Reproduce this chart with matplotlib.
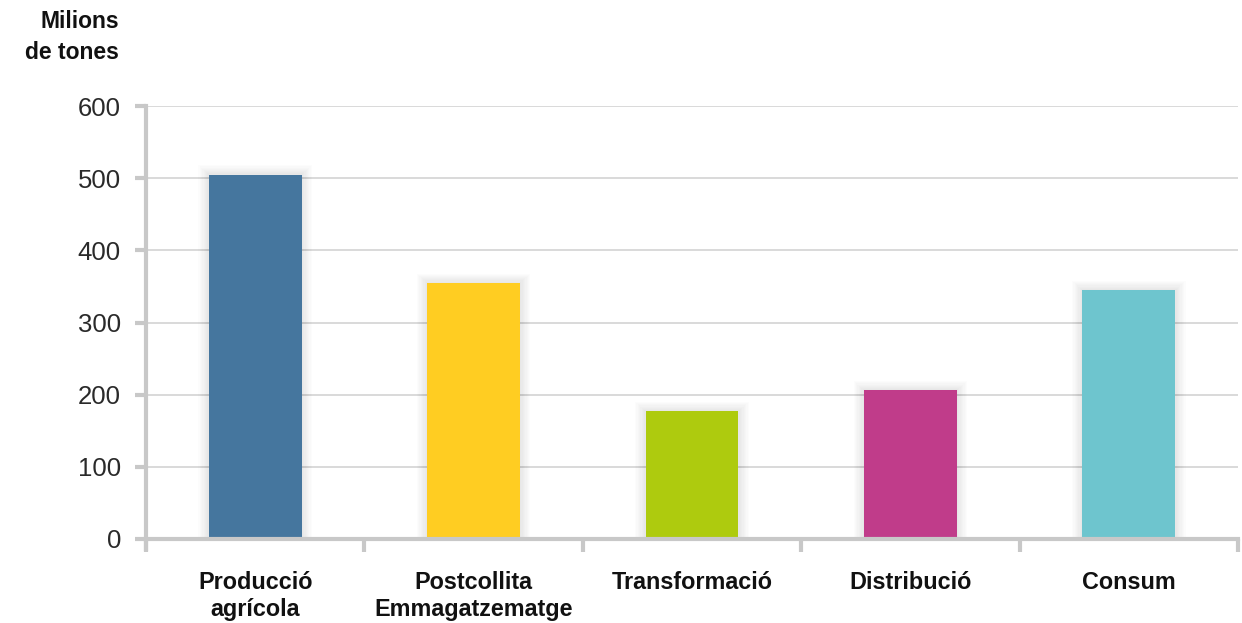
import matplotlib
matplotlib.use("Agg")
import matplotlib.pyplot as plt
from matplotlib.lines import Line2D

categories = ["Producció\nagrícola", "Postcollita\nEmmagatzematge", "Transformació", "Distribució", "Consum"]
values = [505, 355, 177, 206, 345]
colors = ["#45769E", "#FFCD22", "#AECB0E", "#C03C8A", "#6EC5CE"]
yticks = [0, 100, 200, 300, 400, 500, 600]

plt.rcParams['font.family'] = ['Liberation Sans', 'DejaVu Sans']

fig = plt.figure(figsize=(12.42, 6.23), dpi=100)
ax = fig.add_axes([146/1242, 1-539/623, (1238-146)/1242, (539-106)/623])

x = list(range(len(categories)))
bar_w = 0.425
# soft shadow around bars
for k in range(1, 9):
    ax.bar(x, [v + k * 1.6 for v in values], width=bar_w + k * 0.012,
           color="#000000", alpha=0.010, zorder=2, linewidth=0)
ax.bar(x, values, width=bar_w, color=colors, zorder=3)

ax.set_xlim(-0.5, len(categories)-0.5)
ax.set_ylim(0, 600)
ax.set_yticks(yticks)
ax.set_yticklabels([str(v) for v in yticks], fontsize=18.5, color="#2a2a2a")
ax.yaxis.grid(True, color="#cfcfcf", linewidth=1.1, zorder=0)

grey = "#c8c8c8"
for s in ["top", "right"]:
    ax.spines[s].set_visible(False)
for s in ["left", "bottom"]:
    ax.spines[s].set_color(grey)
    ax.spines[s].set_linewidth(3)
    ax.spines[s].set_zorder(4)

ax.tick_params(axis="y", length=8, width=3, color=grey, pad=10)
ax.set_xticks([i - 0.5 for i in range(len(categories)+1)])
ax.set_xticklabels([])
ax.tick_params(axis="x", which="major", length=9, width=3, color=grey)
ax.set_xticks(x, minor=True)
ax.set_xticklabels(categories, minor=True, fontsize=16.8, fontweight="bold", color="#111111")
ax.tick_params(axis="x", which="minor", length=0, pad=23)

# left spine extends slightly below zero
ax.add_line(Line2D([0, 0], [0, -12/433], transform=ax.transAxes, color=grey,
                   linewidth=3, clip_on=False, zorder=4, solid_capstyle="butt"))

fig.text(119/1242, 1-10/623, "Milions\nde tones", ha="right", va="top",
         fontsize=16.5, fontweight="bold", color="#111111", linespacing=1.45)

fig.savefig("out.png", dpi=100)
